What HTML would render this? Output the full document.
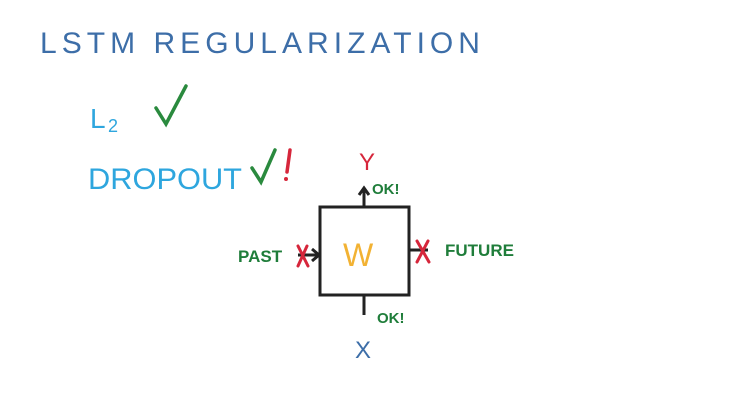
<!DOCTYPE html>
<html><head><style>body{margin:0;background:#fff}svg{display:block}</style></head><body>
<svg width="731" height="413" viewBox="0 0 731 413" xmlns="http://www.w3.org/2000/svg" font-family="Liberation Sans, sans-serif">
<rect width="731" height="413" fill="#fff"/>
<text x="40" y="53" font-size="30" fill="#3d6ea8" letter-spacing="5" textLength="445" lengthAdjust="spacingAndGlyphs">LSTM  REGULARIZATION</text>
<text x="90" y="128" font-size="28" fill="#2ea6de">L</text>
<text x="108" y="132" font-size="18" fill="#2ea6de">2</text>
<path d="M156 108 L166 124 L186 86" stroke="#2a8a3e" stroke-width="3.5" fill="none" stroke-linecap="round"/>
<text x="88" y="189" font-size="30" fill="#2ea6de" textLength="154" lengthAdjust="spacingAndGlyphs">DROPOUT</text>
<path d="M252 168 L261 182 L275 150" stroke="#2a8a3e" stroke-width="3.5" fill="none" stroke-linecap="round"/>
<path d="M290 150 L287 172" stroke="#d6263b" stroke-width="3.5" stroke-linecap="round"/><circle cx="286" cy="179" r="2" fill="#d6263b"/>
<text x="359" y="170" font-size="24" fill="#d6263b">Y</text>
<text x="372" y="194" font-size="15" font-weight="bold" fill="#1f7d3a">OK!</text>
<rect x="320" y="207" width="89" height="88" fill="none" stroke="#222" stroke-width="3"/>
<path d="M364 207 V189 M359 195 L364 188 L369 195" stroke="#222" stroke-width="3" fill="none"/>
<path d="M364 295 V315" stroke="#222" stroke-width="3"/>
<text x="377" y="323" font-size="15" font-weight="bold" fill="#1f7d3a">OK!</text>
<text x="355" y="358" font-size="24" fill="#3d6ea8">X</text>
<text x="343" y="266" font-size="32" fill="#f2b233">W</text>
<text x="238" y="262" font-size="17" font-weight="bold" fill="#1f7d3a">PAST</text>
<path d="M298 255 H318 M312 249 L319 255 L312 261" stroke="#222" stroke-width="3" fill="none"/>
<path d="M298 246 L308 266 M307 246 L298 266" stroke="#d6263b" stroke-width="3" stroke-linecap="round"/>
<path d="M410 250 H428" stroke="#222" stroke-width="3"/>
<path d="M417 241 L429 262 M428 241 L417 262" stroke="#d6263b" stroke-width="3" stroke-linecap="round"/>
<text x="445" y="256" font-size="17" font-weight="bold" fill="#1f7d3a">FUTURE</text>
</svg>
</body></html>
